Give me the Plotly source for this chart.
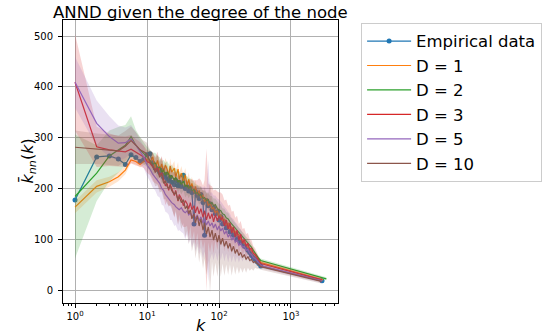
import numpy as np
import plotly.graph_objects as go

# Degree values shared by all curves (the last point of each curve is its own hub degree)
K = [1, 2, 3, 4, 5, 6, 7, 8, 9, 10, 11, 12, 13, 14, 15, 16, 17, 18, 19,
     20, 21, 22, 24, 25, 27, 28, 30, 32, 34,
     36, 38, 40, 42, 45, 47, 50, 53, 56, 60,
     63, 67, 71, 75, 80, 84, 89, 95, 100, 106,
     112, 119, 126, 134, 142, 150, 159, 168, 178, 189,
     200, 212, 225, 238, 252, 267, 283, 300, 318, 337,
     357, 380]
tail_k = [2700, 2800, 3100, 2700, 2700, 2650]

# Average nearest-neighbour degree of the observed network
emp_knn = [177, 262, 264, 258, 247, 266, 261, 253, 257, 266, 268, 250, 240, 238, 232, 236, 222, 228, 219,
           215, 222, 212, 207, 216, 205, 212, 204, 226, 200,
           203, 195, 202, 192, 130, 194, 186, 180, 188, 172,
           108, 176, 166, 170, 158, 162, 150, 154, 138, 144,
           130, 134, 122, 126, 114, 118, 108, 110, 100, 102,
           94, 92, 86, 84, 78, 74, 68, 64, 60, 56,
           52, 47,
           18]

# Model ensembles: mean and standard deviation for each dimension D
d1_knn = [163, 204, 213, 223, 236, 256, 253, 247, 253, 258, 250, 262, 240, 255, 236, 248, 232, 246, 238,
          226, 244, 232, 240, 222, 238, 218, 230, 214, 226,
          206, 218, 200, 210, 192, 204, 188, 196, 182, 186,
          174, 180, 166, 172, 160, 162, 152, 156, 144, 148,
          136, 140, 128, 132, 120, 124, 114, 116, 108, 110,
          100, 98, 92, 90, 84, 82, 76, 72, 68, 64,
          60, 54,
          20]
d1_std = [12, 12, 10, 9, 8, 6, 6, 6, 7, 8, 8, 10, 9, 12, 10, 12, 10, 14, 12,
          12, 15, 12, 14, 12, 14, 12, 14, 12, 14,
          12, 14, 12, 13, 12, 12, 11, 12, 10, 12,
          10, 11, 10, 10, 9, 10, 9, 10, 8, 9,
          8, 8, 8, 8, 7, 7, 7, 7, 6, 6,
          6, 6, 5, 5, 5, 5, 4, 4, 4, 4,
          3, 3,
          2]

d2_knn = [184, 230, 264, 276, 285, 302, 285, 276, 269, 262, 255, 248, 250, 240, 242, 232, 236, 226, 232,
          228, 220, 226, 216, 222, 212, 216, 208, 214, 204,
          206, 200, 204, 196, 198, 190, 192, 186, 188, 180,
          182, 176, 178, 170, 172, 166, 168, 160, 158, 156,
          150, 148, 142, 140, 134, 130, 126, 122, 118, 114,
          110, 106, 102, 98, 94, 90, 84, 78, 72, 66,
          62, 58,
          22]
d2_std = [122, 55, 50, 45, 40, 40, 30, 25, 22, 20, 20, 22, 20, 24, 20, 22, 20, 24, 22,
          20, 24, 20, 22, 18, 22, 18, 20, 18, 22,
          18, 20, 16, 20, 16, 18, 15, 18, 15, 16,
          14, 16, 14, 15, 13, 14, 12, 14, 12, 13,
          11, 12, 11, 12, 10, 11, 10, 10, 9, 9,
          8, 8, 8, 7, 7, 7, 6, 6, 5, 5,
          4, 4,
          3]

d3_knn = [409, 282, 276, 273, 272, 277, 271, 267, 262, 253, 250, 242, 236, 240, 226, 230, 215, 205, 210,
          196, 208, 200, 186, 196, 175, 188, 180, 166, 176,
          170, 160, 172, 158, 166, 152, 164, 150, 160, 143,
          156, 138, 152, 140, 150, 134, 148, 136, 146, 138,
          144, 126, 138, 120, 132, 112, 124, 104, 118, 98,
          110, 92, 100, 86, 92, 80, 82, 72, 70, 64,
          58, 52,
          20]
d3_std = [95, 40, 32, 30, 30, 28, 26, 24, 22, 22, 24, 28, 26, 32, 28, 34, 30, 38, 34,
          32, 40, 36, 44, 38, 46, 40, 48, 42, 52,
          44, 56, 46, 60, 50, 64, 52, 70, 56, 62,
          60, 140, 58, 66, 54, 62, 50, 58, 46, 54,
          44, 50, 40, 46, 36, 42, 32, 38, 28, 32,
          26, 28, 22, 24, 20, 20, 16, 14, 12, 10,
          8, 6,
          4]

d5_knn = [409, 328, 302, 289, 290, 297, 285, 272, 262, 246, 238, 228, 222, 215, 210, 200, 196, 188, 184,
          180, 176, 172, 168, 164, 160, 158, 162, 155, 152,
          156, 148, 152, 144, 150, 140, 148, 136, 144, 132,
          140, 128, 136, 126, 132, 122, 130, 118, 126, 116,
          122, 110, 116, 104, 110, 98, 104, 94, 98, 88,
          92, 84, 86, 78, 80, 72, 70, 64, 62, 58,
          54, 48,
          18]
d5_std = [50, 45, 40, 35, 30, 28, 26, 24, 22, 22, 24, 26, 26, 30, 28, 32, 30, 34, 32,
          32, 38, 34, 42, 36, 44, 40, 48, 44, 52,
          46, 56, 50, 60, 54, 64, 56, 66, 60, 70,
          64, 72, 120, 66, 60, 64, 56, 62, 52, 58,
          48, 54, 44, 50, 40, 44, 36, 40, 32, 34,
          28, 28, 22, 22, 18, 18, 14, 12, 10, 8,
          6, 5,
          4]

d10_knn = [281, 278, 276, 274, 283, 294, 285, 276, 272, 268, 252, 245, 232, 236, 222, 228, 210, 215, 204,
           200, 206, 196, 188, 194, 176, 184, 172, 178, 160,
           166, 150, 158, 140, 150, 132, 146, 126, 140, 118,
           132, 110, 124, 104, 118, 98, 112, 94, 108, 90,
           102, 86, 96, 82, 92, 76, 86, 72, 80, 68,
           74, 64, 70, 60, 66, 58, 60, 54, 56, 52,
           50, 46,
           17]
d10_std = [33, 30, 30, 30, 30, 28, 26, 24, 22, 22, 24, 26, 28, 30, 30, 34, 32, 36, 34,
           34, 40, 36, 44, 40, 48, 44, 52, 46, 56,
           50, 60, 54, 64, 56, 70, 60, 72, 64, 76,
           70, 80, 66, 110, 62, 72, 58, 68, 54, 64,
           50, 58, 46, 52, 42, 48, 38, 42, 34, 36,
           30, 30, 26, 26, 22, 20, 18, 16, 12, 10,
           8, 6,
           4]

model_names = ["D = 1", "D = 2", "D = 3", "D = 5", "D = 10"]
model_means = [d1_knn, d2_knn, d3_knn, d5_knn, d10_knn]
model_stds = [d1_std, d2_std, d3_std, d5_std, d10_std]
model_colors = ["#ff7f0e", "#2ca02c", "#d62728", "#9467bd", "#8c564b"]
model_fills = ["rgba(255,127,14,0.2)", "rgba(44,160,44,0.2)", "rgba(214,39,40,0.2)",
               "rgba(148,103,189,0.2)", "rgba(140,86,75,0.2)"]

FONT = "DejaVu Sans"

fig = go.Figure()

fig.add_trace(go.Scatter(
    x=K + [tail_k[0]], y=emp_knn, mode="lines+markers",
    name="Empirical data", legendgroup="emp",
    line=dict(color="#1f77b4", width=1.2),
    marker=dict(color="#1f77b4", size=5),
))

for i, (name, mean, std, col, fcol) in enumerate(
        zip(model_names, model_means, model_stds, model_colors, model_fills)):
    kk = np.array(K + [tail_k[i + 1]], dtype=float)
    m = np.array(mean, dtype=float)
    s = np.array(std, dtype=float)
    # shaded +/- one standard deviation band
    fig.add_trace(go.Scatter(
        x=np.concatenate([kk, kk[::-1]]),
        y=np.concatenate([m + s, (m - s)[::-1]]),
        fill="toself", fillcolor=fcol, mode="none",
        showlegend=False, hoverinfo="skip",
    ))
    fig.add_trace(go.Scatter(
        x=kk, y=m, mode="lines", name=name, legendgroup=name,
        line=dict(color=col, width=1.2),
    ))

axis_common = dict(
    showline=True, linecolor="black", linewidth=1, mirror=True,
    ticks="outside", ticklen=4, tickcolor="black",
    showgrid=True, gridcolor="#b0b0b0", gridwidth=1,
    tickfont=dict(family=FONT, size=10, color="black"),
    zeroline=False,
)

fig.update_layout(
    width=547, height=336,
    margin=dict(l=63, r=209, t=20, b=33, autoexpand=False),
    paper_bgcolor="white", plot_bgcolor="white",
    font=dict(family=FONT, color="black"),
    xaxis=dict(type="log", range=[-0.167, 3.653],
               tickvals=[1, 10, 100, 1000],
               ticktext=["10<sup>0</sup>", "10<sup>1</sup>", "10<sup>2</sup>", "10<sup>3</sup>"],
               minor=dict(ticks="outside", ticklen=2, tickcolor="black", dtick="D1", showgrid=False),
               **axis_common),
    yaxis=dict(range=[-25.6, 531.5], tickvals=[0, 100, 200, 300, 400, 500],
               ticklabelstandoff=3, **axis_common),
    legend=dict(x=1.084, y=0.99, xanchor="left", yanchor="top",
                bordercolor="#cccccc", borderwidth=1, bgcolor="white",
                font=dict(family=FONT, size=16.5, color="black"),
                itemwidth=44, tracegroupgap=0),
    showlegend=True,
    annotations=[
        dict(text="ANND given the degree of the node", xref="paper", yref="paper",
             x=0.5, y=1.028, xanchor="center", yanchor="middle", showarrow=False,
             font=dict(family=FONT, size=16.5, color="black")),
        dict(text="<i>k</i>", xref="paper", yref="paper", x=0.5, y=-0.081,
             xanchor="center", yanchor="middle", showarrow=False,
             font=dict(family=FONT, size=16, color="black")),
        dict(text="<i>k\u0304</i><sub><i>nn</i></sub>(<i>k</i>)", xref="paper", yref="paper",
             x=-0.127, y=0.5, xanchor="center", yanchor="middle", textangle=-90,
             showarrow=False, font=dict(family=FONT, size=16, color="black")),
    ],
)

fig.write_html("out.html")
